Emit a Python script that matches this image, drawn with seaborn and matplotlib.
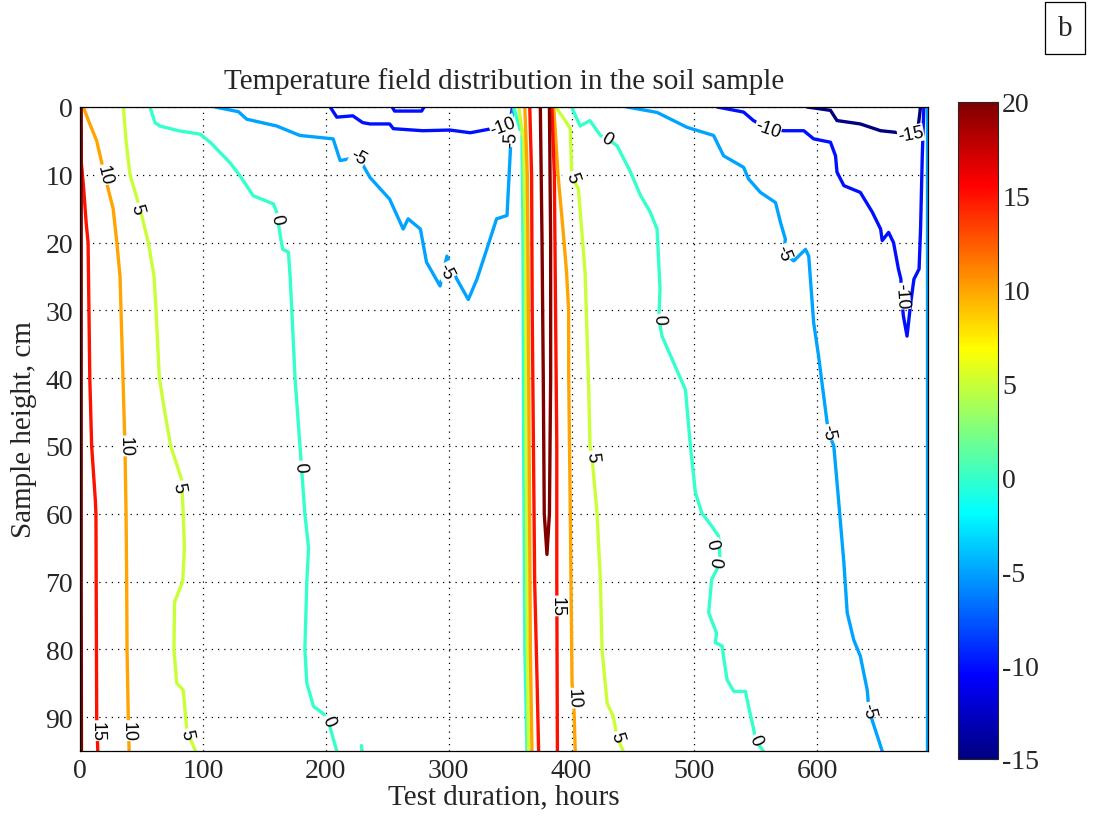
import numpy as np
import pandas as pd
import matplotlib
import matplotlib.pyplot as plt
import seaborn as sns

# isotherms: time (hours) and depth (cm) of each vertex
lvl = {}
tt = {}
dd = {}

# first warm period, left part
lvl['p20_left'] = 20
tt['p20_left'] = [1, 1, 1, 1.2]
dd['p20_left'] = [0, 30, 70, 95]

lvl['p15_left'] = 15
tt['p15_left'] = [0.5, 1, 3, 5, 6.6, 8, 9.5, 12.5, 13, 13.6, 14.5]
dd['p15_left'] = [0, 8, 12, 17, 20, 40, 50, 58, 60, 90, 95]

lvl['p10_left'] = 10
tt['p10_left'] = [2.7, 8, 13.6, 20, 27, 30, 32.6, 33.4, 35, 36.6, 37.5, 38, 38.3, 39.3, 40]
dd['p10_left'] = [0, 2.5, 5, 10, 15, 20, 25, 30, 40, 50, 60, 70, 80, 90, 95]

lvl['p5_left'] = 5
tt['p5_left'] = [35.3, 37.5, 40.7, 48.9, 55.6, 60.3, 61.9, 64.6, 69, 73.8, 82.8, 84, 85, 83.6,
                 77, 76.5, 78.7, 84, 87, 94]
dd['p5_left'] = [0, 5, 10, 15, 20, 25, 30, 40, 45, 50, 55, 60, 65, 70,
                 73, 80, 85, 86, 92, 95]

lvl['p0_left'] = 0
tt['p0_left'] = [57, 61, 65, 80, 97.7, 106, 122, 130, 141, 157.5, 160, 163, 165, 169.6, 171, 172.4,
                 175, 179, 183, 186, 184.6, 183, 184.6, 190, 198, 202, 205, 209]
dd['p0_left'] = [0, 2.3, 2.8, 3.5, 4, 5.2, 8.2, 10.1, 13.1, 14.3, 15.5, 19, 21, 21.4, 25, 30,
                 40, 50, 60, 65, 70, 80, 85, 88.4, 89.5, 90.5, 92.5, 95]

lvl['p0_blip'] = 0
tt['p0_blip'] = [229, 229.5]
dd['p0_blip'] = [94.2, 95]

lvl['n5_left'] = -5
tt['n5_left'] = [110, 129, 135.7, 160, 179, 206, 211.7, 226.6, 236, 252, 263, 267, 277, 282, 293,
                 298.6, 306.7, 316, 323, 331, 339, 347.5, 350, 351.5, 352.8]
dd['n5_left'] = [0, 0.7, 1.8, 2.8, 4.2, 4.7, 7.9, 7.4, 10.4, 13.6, 18, 16.5, 18, 22.9, 26.4,
                 22, 25.4, 28.4, 25.4, 21, 16.5, 16, 7.2, 1.8, 0]

lvl['n10_left'] = -10
tt['n10_left'] = [203.6, 209, 222, 230, 236, 252, 255, 279, 301, 317.6, 335, 344, 350, 352]
dd['n10_left'] = [0, 1.5, 1.3, 2.3, 2.5, 2.5, 3.2, 3.5, 3.4, 3.8, 3.2, 2.8, 2.2, 0]

lvl['n10_top'] = -10
tt['n10_top'] = [254, 256, 278, 280]
dd['n10_top'] = [0, 0.6, 0.6, 0]

# warm spike around 370 h
lvl['s0_a'] = 0
tt['s0_a'] = [352.8, 356, 359.7, 360.5, 361, 362, 363.7]
dd['s0_a'] = [0, 2, 4.7, 20, 50, 80, 95]

lvl['s5_a'] = 5
tt['s5_a'] = [357, 361, 362.4, 363, 364, 365]
dd['s5_a'] = [0, 5, 20, 50, 80, 95]

lvl['s10_a'] = 10
tt['s10_a'] = [362, 364, 364.5, 365.5, 366.5, 367.8]
dd['s10_a'] = [0, 10, 20, 50, 80, 95]

lvl['s15_a'] = 15
tt['s15_a'] = [366, 367.5, 368, 369, 370, 372, 373.2]
dd['s15_a'] = [0, 10, 30, 50, 70, 85, 95]

lvl['s20'] = 20
tt['s20'] = [374.6, 376, 377, 377.8, 380, 382, 383, 383, 382]
dd['s20'] = [0, 20, 40, 60, 66, 60, 40, 20, 0]

lvl['s15_b'] = 15
tt['s15_b'] = [384, 386, 387, 388, 388, 388.5]
dd['s15_b'] = [0, 10, 30, 50, 70, 95]

lvl['s10_b'] = 10
tt['s10_b'] = [385.5, 389, 393, 396, 397.6, 397.7, 399, 400.4, 401.7, 403]
dd['s10_b'] = [0, 10, 18, 24.5, 30, 40, 60, 85, 87.2, 95]

lvl['s5_b'] = 5
tt['s5_b'] = [387, 393, 399, 400, 400.4, 405.6, 411, 414, 415, 416.6, 420.8, 423.5, 424.8,
              429, 434, 437, 442]
dd['s5_b'] = [0, 1.5, 3.2, 9.2, 10.3, 12.1, 24.4, 41.6, 50, 51.5, 60, 70, 80,
              88, 89.9, 92.9, 95]

lvl['s0_b'] = 0
tt['s0_b'] = [400, 407, 415, 423.5, 429, 437, 448, 456, 464, 469.6, 472, 471, 473.6, 483, 492.7,
              496.7, 500.8, 506, 514, 519.6, 521, 514, 511.6, 518, 517, 522.5, 524, 526.6, 532,
              541.5, 544, 548, 549.7, 556]
dd['s0_b'] = [0, 2.8, 2, 4.2, 4.7, 5.7, 9.6, 13, 15.5, 18, 26.9, 31.3, 33.8, 37.7, 41.7,
              50, 56.9, 59.9, 61.8, 63.3, 67.2, 69.7, 74.6, 77.6, 79, 79.5, 81.5, 84.5, 86.2,
              86.2, 88.4, 91.6, 93.4, 95]

lvl['n5_right'] = -5
tt['n5_right'] = [445, 469.6, 494, 515.6, 523.7, 540, 544, 553.7, 566, 570, 574, 572.6, 580.8, 590.4,
                  593, 597, 601, 604, 609, 613.4, 617, 621.6, 624.3, 629.6, 635, 640.6, 642, 652.8]
dd['n5_right'] = [0, 0.8, 3, 4.2, 7.2, 8.9, 10.6, 12.6, 14.1, 17, 19.5, 21.5, 22.7, 21,
                  22, 31.8, 36.7, 41, 48, 50, 57.4, 67.2, 74.6, 78.6, 81, 86, 89, 95]

lvl['n10_right'] = -10
tt['n10_right'] = [518.5, 540, 548, 560, 572.6, 589, 597, 610.7, 614.8, 616, 621.6, 635, 644.7, 651.5,
                   652.8, 658, 662, 666, 668, 668.5, 670, 673, 676, 678.6, 682.8, 684, 685.4, 686.7]
dd['n10_right'] = [0, 0.75, 2, 3.2, 3.5, 3.5, 4.7, 5.2, 7.2, 9.6, 11.6, 12.6, 15.5, 18,
                   19.7, 18.5, 20, 23.9, 25.4, 27.9, 30.8, 33.8, 28.9, 25.4, 23.9, 18, 7.2, 0]

lvl['n15_right'] = -15
tt['n15_right'] = [591.7, 610.7, 616, 635, 651.5, 662, 676, 682, 684]
dd['n15_right'] = [0, 0.5, 2, 2.5, 3.5, 3.7, 4, 3, 0]

lvl['n5_edge'] = -5
tt['n5_edge'] = [689, 689, 689]
dd['n5_edge'] = [0, 50, 95]

# contour labels: (isotherm, time, depth)
label_pos = [
    ('p10_left', 20, 10), ('p10_left', 36.6, 50), ('p10_left', 39.3, 92),
    ('p15_left', 13.8, 92),
    ('p5_left', 46, 15), ('p5_left', 80, 56), ('p5_left', 87, 92.5),
    ('p0_left', 160, 16.5), ('p0_left', 179, 53), ('p0_left', 202, 90.5),
    ('n5_left', 226.6, 7.4), ('n5_left', 298, 24.2), ('n5_left', 351, 4.7),
    ('n10_left', 344, 2.8),
    ('s15_b', 388, 73.6), ('s10_b', 401.7, 87.2),
    ('s5_b', 400.4, 10.3), ('s5_b', 416.6, 51.5), ('s5_b', 437, 92.9),
    ('s0_b', 429, 4.7), ('s0_b', 471, 31.3), ('s0_b', 514, 64.5), ('s0_b', 521, 67.2),
    ('s0_b', 549.7, 93.4),
    ('n5_right', 572.6, 21.5), ('n5_right', 609, 48), ('n5_right', 642, 89),
    ('n10_right', 560, 3.2), ('n10_right', 668.5, 27.9),
    ('n15_right', 676, 4),
]

cbar_ticks = [-15, -10, -5, 0, 5, 10, 15, 20]

rows = []
for k in tt:
    for t, d in zip(tt[k], dd[k]):
        rows.append((k, lvl[k], t, d))
df = pd.DataFrame(rows, columns=['seg', 'level', 'time', 'depth'])

# matlab style jet
xx = np.linspace(0, 1, 256)
jet_rgb = np.column_stack([np.clip(1.5 - np.abs(4 * xx - 3), 0, 1),
                           np.clip(1.5 - np.abs(4 * xx - 2), 0, 1),
                           np.clip(1.5 - np.abs(4 * xx - 1), 0, 1)])
jet = matplotlib.colors.ListedColormap(jet_rgb)
norm = matplotlib.colors.Normalize(-15, 20)
pal = {v: jet(norm(v)) for v in sorted(set(lvl.values()))}

sns.set_style('white')
plt.rcParams['font.family'] = ['Liberation Serif', 'DejaVu Serif']
plt.rcParams['axes.unicode_minus'] = False

fig = plt.figure(figsize=(10.94, 8.2), dpi=100)
ax = fig.add_axes([0.0731, 0.0829, 0.7751, 0.7854])

sns.lineplot(data=df, x='time', y='depth', hue='level', units='seg', estimator=None,
             sort=False, palette=pal, linewidth=2.4, legend=False, ax=ax)

ax.set_xlim(0, 690)
ax.set_ylim(95, 0)
ax.set_xticks(range(0, 700, 100))
ax.set_yticks(range(0, 100, 10))
ax.grid(True, color='black', linestyle=(0, (1, 4)), linewidth=0.9)
ax.set_axisbelow(True)
ax.tick_params(direction='in', length=5, width=0.8, labelsize=20, pad=5)
for s in ax.spines.values():
    s.set_color('black')
    s.set_linewidth(0.9)
ax.set_title('Temperature field distribution in the soil sample', fontsize=21, pad=14)
ax.set_xlabel('Test duration, hours', fontsize=21, labelpad=0)
ax.set_ylabel('Sample height, cm', fontsize=21, labelpad=6)

# contour labels along the lines
fig.canvas.draw()
for k, t, d in label_pos:
    pts = ax.transData.transform(np.column_stack([tt[k], dd[k]]))
    p = ax.transData.transform((t, d))
    i = int(np.argmin(((pts - p) ** 2).sum(axis=1)))
    a = pts[max(i - 1, 0)]
    b = pts[min(i + 1, len(pts) - 1)]
    ang = np.degrees(np.arctan2(b[1] - a[1], b[0] - a[0]))
    if ang > 90:
        ang -= 180
    if ang <= -90:
        ang += 180
    ax.text(t, d, str(lvl[k]), rotation=ang, rotation_mode='anchor', ha='center', va='center',
            fontsize=13, family=['Liberation Sans', 'DejaVu Sans'], color='black', zorder=5,
            bbox=dict(fc='white', ec='none', pad=0.2))

cax = fig.add_axes([0.8757, 0.0732, 0.0366, 0.8012])
sm = matplotlib.cm.ScalarMappable(norm=norm, cmap=jet)
cb = fig.colorbar(sm, cax=cax, ticks=cbar_ticks)
cb.ax.tick_params(direction='in', length=4, labelsize=20, pad=3)
cb.outline.set_linewidth(0.8)

fig.text(0.9735, 0.9646, 'b', ha='center', va='center', fontsize=21,
         bbox=dict(boxstyle='square,pad=0.45', fc='white', ec='black', lw=0.9))

plt.savefig('out.png', dpi=100)
